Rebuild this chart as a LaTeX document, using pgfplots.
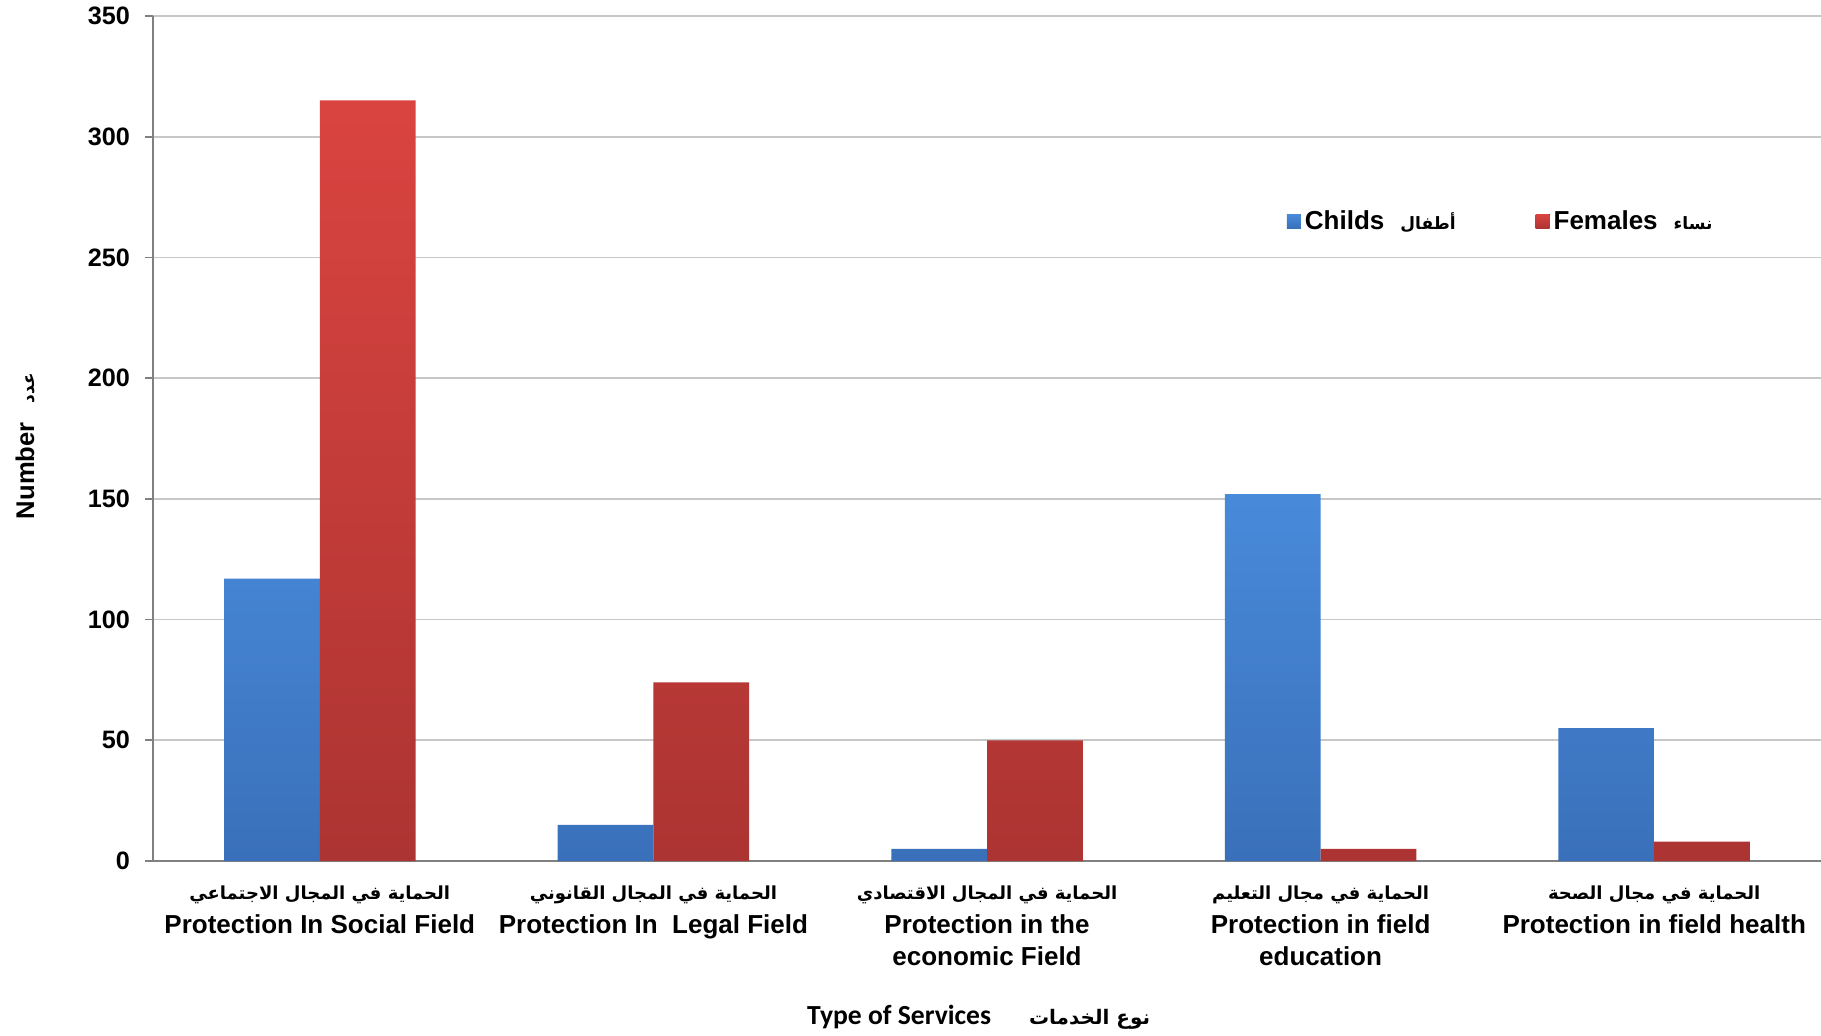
\documentclass[border=0pt]{standalone}
\usepackage{fontspec}
\setmainfont{Liberation Sans}
\newfontfamily\arabicfont[Script=Arabic]{DejaVu Sans}
\newfontfamily\calibri{Carlito}
\TeXXeTstate=1
\usepackage{pgfplots}
\pgfplotsset{compat=1.18}
\definecolor{cblueT}{RGB}{72,138,218}
\definecolor{cblueB}{RGB}{58,112,186}
\definecolor{credT}{RGB}{218,68,64}
\definecolor{credB}{RGB}{172,52,50}
\newcommand{\arf}{\arabicfont\bfseries\fontsize{9}{11}\selectfont}
\newcommand{\arleg}{\arabicfont\bfseries\fontsize{8.5}{10}\selectfont}
\newcommand{\arx}{\arabicfont\bfseries\fontsize{10}{12}\selectfont}
\begin{document}
\begin{tikzpicture}
\path[use as bounding box] (0,0) rectangle (910.5pt,517.5pt);
\begin{axis}[
  at={(76.5pt,87pt)}, anchor=south west,
  scale only axis, width=834pt, height=422.5pt,
  ybar=0pt, bar width=0.287,
  xmin=-0.5, xmax=4.5, ymin=0, ymax=350,
  ytick={0,50,...,350},
  xtick={0,1,2,3,4},
  xticklabels={
    {{\arf\beginR الحماية في المجال الاجتماعي\endR}\\[1pt]Protection In Social Field},
    {{\arf\beginR الحماية في المجال القانوني\endR}\\[1pt]Protection In\ \ Legal Field},
    {{\arf\beginR الحماية في المجال الاقتصادي\endR}\\[1pt]Protection in the\\economic Field},
    {{\arf\beginR الحماية في مجال التعليم\endR}\\[1pt]Protection in field\\education},
    {{\arf\beginR الحماية في مجال الصحة\endR}\\[1pt]Protection in field health}},
  xticklabel style={align=center, font=\bfseries\fontsize{13}{16}\selectfont, yshift=-5pt},
  yticklabel style={font=\bfseries\fontsize{12.6}{14}\selectfont, xshift=-4pt},
  /pgf/number format/assume math mode=true,
  axis x line*=bottom, axis y line*=left,
  axis line style={draw=black!50, line width=0.9pt},
  xtick style={draw=none},
  ytick style={draw=black!50, line width=0.9pt},
  tick align=outside, major tick length=4pt,
  ymajorgrids, grid style={draw=black!22, line width=0.9pt},
  xlabel={{\calibri\bfseries\fontsize{13.8}{15}\selectfont Type of Services}\hspace{19pt}{\arx\beginR نوع الخدمات\endR}},
  xlabel style={at={(axis description cs:0.495,0)}, anchor=center, yshift=-78pt},
  ylabel={Number\hspace{9.5pt}{\arleg\beginR عدد\endR}},
  ylabel style={at={(axis description cs:-0.0767,0.491)}, anchor=center, font=\bfseries\fontsize{12.8}{14}\selectfont},
  legend style={at={(rel axis cs:0.676,0.757)}, anchor=west, draw=none, fill=none,
    font=\bfseries\fontsize{13}{15}\selectfont,
    /tikz/every even column/.append style={column sep=38pt}},
  legend columns=2,
  legend image code/.code={\fill[#1] (0pt,-3.5pt) rectangle (7pt,3.5pt);},
]
\addplot[draw=none, top color=cblueT, bottom color=cblueB] coordinates {(0,117) (1,15) (2,5) (3,152) (4,55)};
\addlegendentry{Childs\hspace{8pt}{\arleg\beginR أطفال\endR}}
\addplot[draw=none, top color=credT, bottom color=credB] coordinates {(0,315) (1,74) (2,50) (3,5) (4,8)};
\addlegendentry{Females\hspace{8pt}{\arleg\beginR نساء\endR}}
\end{axis}
\end{tikzpicture}
\end{document}
